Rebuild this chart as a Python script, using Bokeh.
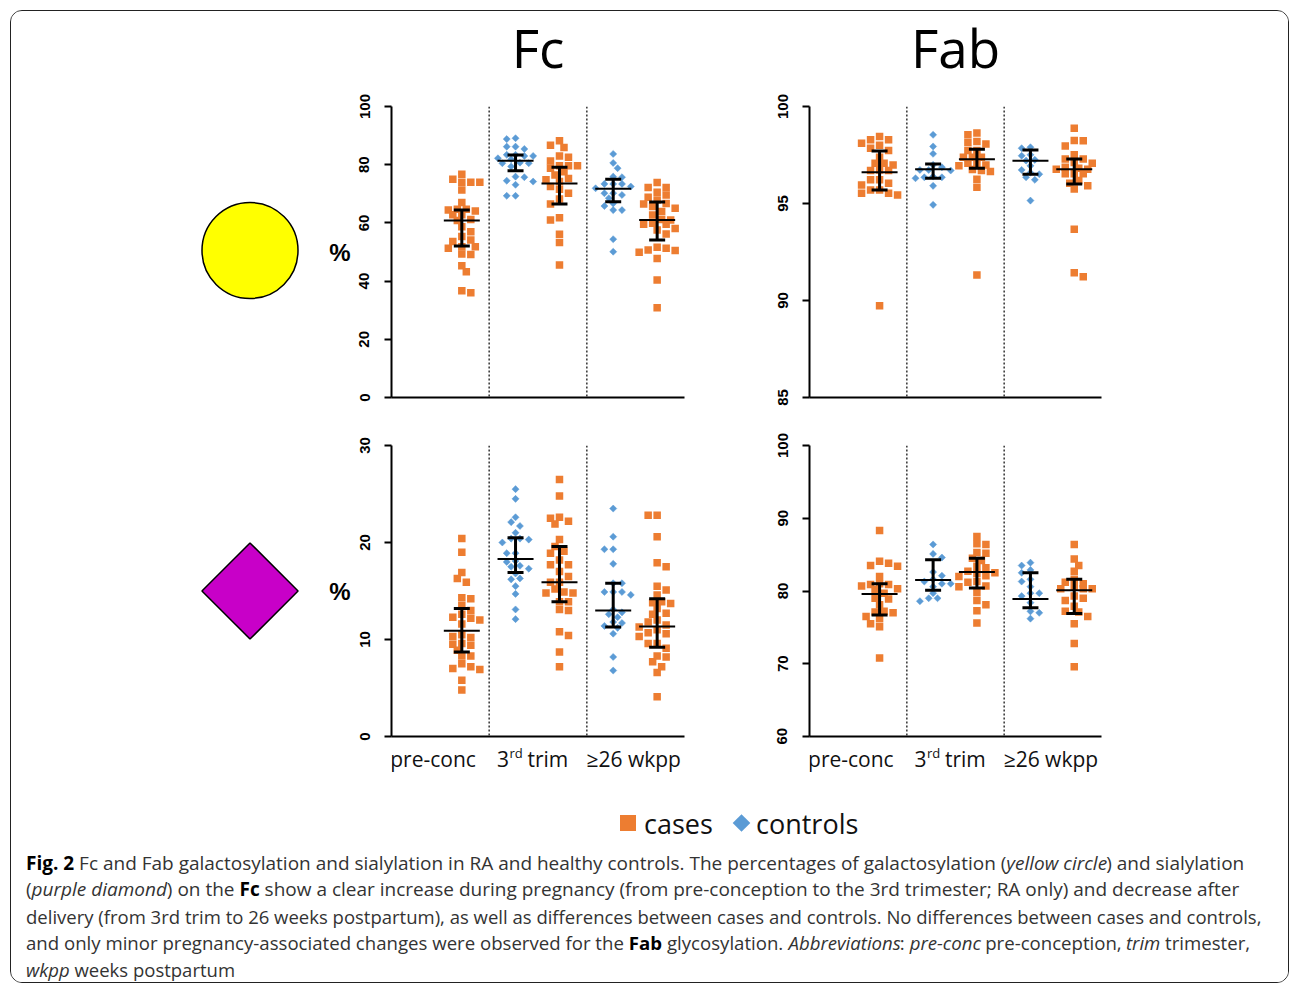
import os, glob
import numpy as np
from bokeh.plotting import figure
from bokeh.layouts import row, column
from bokeh.models import Range1d, FixedTicker, Span, Whisker, TeeHead, ColumnDataSource
from bokeh.core.properties import value
from bokeh.embed import file_html
from bokeh.resources import INLINE

# ------------------------------------------------------------------ data
groups = ["pre-conc", "3rd trim", "≥26 wkpp"]
panel_titles = ["Fc", "Fab"]
legend_labels = ["cases", "controls"]

# Fc galactosylation (%)
fc_gal_cases_pre = [76.7, 75.0, 74.0, 74.0, 74.0, 71.3, 67.0, 64.7, 64.1, 64.4, 64.7, 62.8, 62.8, 61.2, 60.8,
                    58.7, 57.0, 55.3, 54.1, 53.6, 51.3, 51.8, 51.8, 49.1, 49.3, 45.3, 43.2, 36.0, 36.7]
fc_gal_ctrl_3rd = [89.1, 88.8, 86.2, 85.4, 86.2, 83.4, 83.0, 83.4, 82.2, 83.0, 80.5, 79.4, 80.5, 80.7, 81.9,
                   75.7, 75.9, 74.2, 74.5, 73.1, 69.3, 69.3]
fc_gal_cases_3rd = [88.2, 86.7, 85.9, 82.6, 83.0, 81.3, 79.6, 79.6, 78.8, 79.6, 77.6, 76.5, 75.3, 74.2, 74.8,
                    72.5, 71.6, 70.2, 68.2, 66.5, 61.0, 61.8, 56.1, 53.3, 45.5]
fc_gal_ctrl_26 = [83.7, 80.6, 78.8, 75.7, 75.9, 73.4, 73.4, 72.5, 71.9, 73.4, 70.2, 69.6, 70.2, 68.5, 66.7,
                  65.8, 64.4, 64.4, 54.4, 50.1]
fc_gal_cases_26 = [73.9, 72.2, 72.2, 70.5, 69.6, 68.8, 67.9, 66.7, 66.5, 65.6, 65.0, 63.9, 62.7, 61.2, 61.0,
                   59.9, 59.5, 57.6, 58.1, 59.5, 56.2, 51.3, 50.5, 51.6, 49.9, 50.7, 47.8, 40.4, 30.8]
fc_gal_cases_median = [60.8, 73.5, 61.0]
fc_gal_cases_q1 = [52.1, 66.5, 54.1]
fc_gal_cases_q3 = [64.4, 79.1, 67.2]
fc_gal_ctrl_median = [None, 81.4, 71.7]
fc_gal_ctrl_q1 = [None, 77.9, 67.3]
fc_gal_ctrl_q3 = [None, 83.3, 75.0]

# Fab galactosylation (%)
fab_gal_cases_pre = [98.45, 98.28, 98.28, 98.0, 98.1, 97.73, 97.85, 97.39, 96.99, 97.08, 97.08, 96.73, 96.70,
                     96.70, 96.22, 96.22, 96.04, 95.96, 95.70, 95.70, 95.53, 95.44, 95.53, 89.73]
fab_gal_ctrl_3rd = [98.54, 97.94, 97.56, 96.87, 96.99, 96.35, 96.30, 96.73, 96.39, 96.35, 96.70, 96.73, 95.91, 94.93]
fab_gal_cases_3rd = [98.54, 98.63, 98.19, 98.14, 98.07, 97.73, 97.73, 97.39, 97.39, 97.39, 97.08, 97.08, 96.99,
                     96.94, 96.65, 96.75, 96.70, 96.25, 95.84, 91.31]
fab_gal_ctrl_26 = [97.90, 97.85, 97.51, 97.46, 97.25, 97.21, 96.94, 96.59, 96.73, 96.51, 96.35, 96.22, 95.15]
fab_gal_cases_26 = [98.88, 98.23, 98.25, 97.97, 97.51, 97.30, 97.30, 97.11, 97.08, 96.87, 96.77, 96.82, 96.77,
                    96.53, 96.53, 96.53, 96.04, 95.91, 96.18, 95.75, 93.67, 91.43, 91.23]
fab_gal_cases_median = [96.61, 97.28, 96.77]
fab_gal_cases_q1 = [95.70, 96.82, 96.01]
fab_gal_cases_q3 = [97.71, 97.80, 97.30]
fab_gal_ctrl_median = [None, 96.77, 97.20]
fab_gal_ctrl_q1 = [None, 96.30, 96.51]
fab_gal_ctrl_q3 = [None, 97.04, 97.76]

# Fc sialylation (%)
fc_sia_cases_pre = [20.4, 19.0, 16.9, 16.3, 15.9, 14.3, 14.2, 13.5, 12.6, 13.0, 12.0, 12.3, 12.2, 11.6, 10.2,
                    10.3, 10.5, 9.6, 9.4, 9.5, 8.9, 8.3, 8.3, 7.2, 7.5, 6.9, 7.0, 5.8, 4.8]
fc_sia_ctrl_3rd = [25.5, 24.5, 22.6, 22.1, 21.7, 21.0, 20.4, 20.4, 20.0, 20.3, 18.9, 18.9, 18.1, 18.0, 17.5,
                   17.6, 17.3, 16.8, 16.3, 16.2, 15.5, 14.7, 13.1, 12.1]
fc_sia_cases_3rd = [26.5, 24.8, 22.5, 22.6, 21.9, 22.2, 20.3, 19.6, 19.1, 18.9, 18.2, 17.7, 17.7, 17.0, 16.5,
                    15.9, 15.9, 15.2, 14.8, 14.9, 14.8, 13.9, 13.9, 13.1, 13.0, 10.4, 10.8, 8.7, 7.2]
fc_sia_ctrl_26 = [23.5, 20.6, 19.3, 19.3, 17.8, 15.8, 15.8, 14.9, 14.9, 14.9, 14.6, 13.1, 12.8, 12.6, 12.3,
                  11.8, 11.7, 11.2, 10.6, 11.4, 8.2, 6.8]
fc_sia_cases_26 = [22.8, 22.8, 20.6, 17.5, 17.9, 15.5, 15.1, 14.6, 13.9, 13.8, 13.7, 13.2, 12.7, 12.6, 12.0,
                   11.8, 11.0, 11.5, 11.3, 10.7, 10.6, 10.3, 9.1, 9.6, 9.6, 8.3, 8.2, 7.2, 7.7, 6.6, 4.1]
fc_sia_cases_median = [10.9, 15.9, 11.35]
fc_sia_cases_q1 = [8.7, 13.9, 9.2]
fc_sia_cases_q3 = [13.2, 19.6, 14.2]
fc_sia_ctrl_median = [None, 18.3, 13.0]
fc_sia_ctrl_q1 = [None, 16.9, 11.3]
fc_sia_ctrl_q3 = [None, 20.5, 15.8]

# Fab sialylation (%)
fab_sia_cases_pre = [88.3, 84.1, 83.5, 83.4, 83.8, 82.0, 81.0, 80.9, 80.7, 80.9, 80.3, 80.2, 79.7, 78.9, 79.0,
                     78.1, 77.1, 77.2, 77.0, 76.5, 76.2, 75.5, 75.1, 70.8]
fab_sia_ctrl_3rd = [86.4, 84.6, 85.1, 82.6, 82.1, 81.0, 80.6, 81.3, 81.0, 81.6, 79.7, 78.6, 79.0, 79.0]
fab_sia_cases_3rd = [87.5, 86.5, 86.4, 85.3, 85.2, 84.5, 84.2, 83.4, 83.2, 82.7, 82.5, 82.4, 82.0, 82.1, 81.3,
                     81.2, 80.7, 80.6, 79.8, 78.7, 78.1, 77.3, 75.6]
fab_sia_ctrl_26 = [83.9, 83.5, 82.9, 82.5, 81.6, 81.3, 80.6, 79.3, 79.7, 79.7, 78.4, 77.2, 77.0, 76.2]
fab_sia_cases_26 = [86.4, 84.4, 83.5, 82.7, 81.2, 81.6, 80.6, 81.0, 80.3, 80.3, 80.3, 79.3, 78.7, 79.0, 77.9,
                    77.1, 77.2, 76.5, 75.5, 72.8, 69.6]
fab_sia_cases_median = [79.6, 82.6, 80.1]
fab_sia_cases_q1 = [76.7, 80.4, 76.9]
fab_sia_cases_q3 = [81.0, 84.5, 81.6]
fab_sia_ctrl_median = [None, 81.5, 78.9]
fab_sia_ctrl_q1 = [None, 80.1, 77.7]
fab_sia_ctrl_q3 = [None, 84.3, 82.5]

fc_gal_ticks = [0, 20, 40, 60, 80, 100]
fab_gal_ticks = [85, 90, 95, 100]
fc_sia_ticks = [0, 10, 20, 30]
fab_sia_ticks = [60, 70, 80, 90, 100]

caption_lines = [
    [("Fig. 2", "bold"), (" Fc and Fab galactosylation and sialylation in RA and healthy controls. The percentages of galactosylation (", "normal"),
     ("yellow circle", "italic"), (") and sialylation", "normal")],
    [("(", "normal"), ("purple diamond", "italic"), (") on the ", "normal"), ("Fc", "bold"),
     (" show a clear increase during pregnancy (from pre-conception to the 3rd trimester; RA only) and decrease after", "normal")],
    [("delivery (from 3rd trim to 26 weeks postpartum), as well as differences between cases and controls. No differences between cases and controls,", "normal")],
    [("and only minor pregnancy-associated changes were observed for the ", "normal"), ("Fab", "bold"),
     (" glycosylation. ", "normal"), ("Abbreviations", "italic"), (": ", "normal"), ("pre-conc", "italic"),
     (" pre-conception, ", "normal"), ("trim", "italic"), (" trimester,", "normal")],
    [("wkpp", "italic"), (" weeks postpartum", "normal")],
]

# ------------------------------------------------------------------ style / layout
ORANGE = "#ED7D31"
BLUE = "#5B9BD5"
FONT = "Open Sans"
TICK_FONT = "'Liberation Sans Narrow', 'Arial Narrow', 'Liberation Sans'"
BASELINE_FIX = 0.31   # em: bokeh's alphabetic anchor sits lower than the glyph baseline
TITLE_FIX = 0.41

X_MAX = 6
CTRL_OFF, CASE_OFF = 0.54, 1.44
FW_L, FW_R, FH = 293, 292, 291
LB_L, RB_L = 72, 15
LB_R, RB_R = 110, 187
TB1, BB1 = 16, 22
TB2, BB2 = 26, 8
W_DECO = 308
TOP_MARGIN = 10
H_TITLE = 79
H_STRIP = 35
H_CAP = 203
W_ALL = W_DECO + LB_L + FW_L + RB_L + LB_R + FW_R + RB_R
H_ROWS = (TB1 + FH + BB1) + (TB2 + FH + BB2) + H_STRIP


# ------------------------------------------------------------------ text measuring
def _font_path(names):
    roots = ["/usr/share/fonts", "/usr/local/share/fonts",
             os.path.expanduser("~/.local/share/fonts"), os.path.expanduser("~/.fonts")]
    for n in names:
        for r in roots:
            hits = sorted(glob.glob(os.path.join(r, "**", n), recursive=True))
            if hits:
                return hits[0]
    return None


_FONT_FILES = {
    "normal": _font_path(["OpenSans-Regular.ttf", "OpenSans[wdth,wght].ttf", "OpenSans-*.ttf"]),
    "bold": _font_path(["OpenSans-Bold.ttf", "OpenSans[wdth,wght].ttf"]),
    "italic": _font_path(["OpenSans-Italic.ttf", "OpenSans-Italic[wdth,wght].ttf"]),
}
_FCACHE = {}


def _load(style):
    if style in _FCACHE:
        return _FCACHE[style]
    f = None
    try:
        from PIL import ImageFont
        path = _FONT_FILES.get(style)
        if path:
            f = ImageFont.truetype(path, 100)
            if "[" in os.path.basename(path):
                try:
                    axes = f.get_variation_axes()
                    vals = []
                    for a in axes:
                        nm = a.get("name", b"")
                        if isinstance(nm, bytes):
                            nm = nm.decode(errors="ignore")
                        if "eight" in str(nm).lower() or "wght" in str(nm).lower():
                            vals.append(700 if style == "bold" else 400)
                        else:
                            vals.append(a.get("default", 100))
                    f.set_variation_by_axes(vals)
                except Exception:
                    pass
    except Exception:
        f = None
    _FCACHE[style] = f
    return f


def tw(s, size, style="normal"):
    f = _load(style)
    if f is not None:
        try:
            return f.getlength(s) * size / 100.0
        except Exception:
            pass
    f = _load("normal")
    k = 1.07 if style == "bold" else 1.0
    if f is not None:
        try:
            return f.getlength(s) * size / 100.0 * k
        except Exception:
            pass
    return len(s) * 0.53 * size * k


# ------------------------------------------------------------------ helpers
def swarm_offsets(vals, ppu_y, step=4.5, dmin=7.0, kmax=4):
    vals = np.asarray(vals, float)
    order = np.argsort(-vals, kind="stable")
    placed, offs = [], np.zeros(len(vals))
    for n, i in enumerate(order):
        y = vals[i] * ppu_y
        sgn = 1 if n % 2 == 0 else -1
        cand = [0]
        for k in range(1, kmax + 1):
            cand += [sgn * k, -sgn * k]
        best, best_d = None, -1.0
        for c in cand:
            x = c * step
            d = min([np.hypot(x - px, y - py) for px, py in placed] or [1e9])
            if d >= dmin:
                best = x
                break
            if d > best_d:
                best, best_d = x, d
        placed.append((best, y))
        offs[i] = best
    return offs


def make_panel(ymin, ymax, ticks, lb, fw, rb, tb, bb, ylabel=None):
    p = figure(frame_width=fw, frame_height=FH, x_range=Range1d(0, X_MAX), y_range=Range1d(ymin, ymax),
               min_border_left=lb, min_border_right=rb, min_border_top=tb, min_border_bottom=bb,
               output_backend="svg", toolbar_location=None, outline_line_color=None)
    p.grid.visible = False
    ya = p.yaxis[0]
    ya.ticker = FixedTicker(ticks=ticks)
    ya.axis_line_width = 2
    ya.axis_line_color = "black"
    ya.major_tick_line_width = 2
    ya.major_tick_line_color = "black"
    ya.major_tick_out = 7
    ya.major_tick_in = 0
    ya.minor_tick_out = 0
    ya.minor_tick_in = 0
    ya.major_label_orientation = "vertical"
    ya.major_label_text_font = TICK_FONT
    ya.major_label_text_font_style = "bold"
    ya.major_label_text_font_size = "15px"
    ya.major_label_text_color = "#000000"
    ya.major_label_standoff = 15
    if ylabel:
        ya.axis_label = ylabel
        ya.axis_label_orientation = "horizontal"
        ya.axis_label_text_font = "Liberation Sans"
        ya.axis_label_text_font_style = "bold"
        ya.axis_label_text_font_size = "24px"
        ya.axis_label_text_color = "#000000"
        ya.axis_label_standoff = 6
    xa = p.xaxis[0]
    xa.ticker = FixedTicker(ticks=[])
    xa.major_tick_out = 0
    xa.major_tick_in = 0
    xa.minor_tick_out = 0
    xa.minor_tick_in = 0
    xa.major_label_text_font_size = "0px"
    xa.major_label_standoff = 0
    xa.axis_line_width = 2
    xa.axis_line_color = "black"
    for s in (2, 4):
        p.add_layout(Span(location=s, dimension="height", line_color="#333333", line_width=1.5, line_dash="2 2"))
    return p


def draw(p, cases, ctrls, med_c, q1_c, q3_c, med_k, q1_k, q3_k, fw):
    ymin, ymax = p.y_range.start, p.y_range.end
    ppu_y = FH / (ymax - ymin)
    ppu_x = fw / X_MAX
    # controls
    xs, ys = [], []
    for k, vals in enumerate(ctrls):
        if vals is None:
            continue
        xc = 2 * k + CTRL_OFF
        offs = swarm_offsets(vals, ppu_y, step=4.4, dmin=6.2, kmax=4)
        xs += list(xc + offs / ppu_x)
        ys += list(vals)
    p.scatter(xs, ys, marker="square", angle=np.pi / 4, size=5, fill_color=BLUE, line_color=BLUE, line_width=0.5)
    # cases
    xs, ys = [], []
    for k, vals in enumerate(cases):
        xc = 2 * k + CASE_OFF
        offs = swarm_offsets(vals, ppu_y, step=4.5, dmin=7.2, kmax=4)
        xs += list(xc + offs / ppu_x)
        ys += list(vals)
    p.scatter(xs, ys, marker="square", size=7.5, fill_color=ORANGE, line_color=None)
    # medians + IQR
    bx, lo, hi, md = [], [], [], []
    for k in range(3):
        if med_k[k] is not None:
            bx.append(2 * k + CTRL_OFF); lo.append(q1_k[k]); hi.append(q3_k[k]); md.append(med_k[k])
        bx.append(2 * k + CASE_OFF); lo.append(q1_c[k]); hi.append(q3_c[k]); md.append(med_c[k])
    bx = np.array(bx)
    half = 18.0 / ppu_x
    p.segment(x0=bx - half, x1=bx + half, y0=md, y1=md, line_width=2, line_color="black")
    src = ColumnDataSource(dict(base=bx, lower=lo, upper=hi))
    p.add_layout(Whisker(source=src, base="base", lower="lower", upper="upper",
                         line_width=3, line_color="black", level="overlay",
                         upper_head=TeeHead(size=16, line_width=3, line_color="black"),
                         lower_head=TeeHead(size=16, line_width=3, line_color="black")))


def make_strip(x_range, lb, fw, rb):
    s = figure(frame_width=fw, frame_height=H_STRIP, x_range=x_range, y_range=Range1d(0, 1),
               min_border_left=lb, min_border_right=rb, min_border_top=0, min_border_bottom=0,
               x_axis_location=None, y_axis_location=None,
               output_backend="svg", toolbar_location=None, outline_line_color=None)
    s.grid.visible = False
    label_x = [0.85, 2.89, 4.96]
    ly = 0.59
    fs = 21
    common = dict(text_font=value(FONT), text_color="#111111", text_baseline="middle")
    s.text(x=[label_x[0], label_x[2]], y=[ly, ly], text=[groups[0], groups[2]],
           text_align="center", text_font_size="21px", **common)
    # "3rd trim" with superscript
    w3 = tw("3", fs)
    wrd = tw("rd", 13)
    wtr = tw(" trim", fs)
    left = -(w3 + wrd + wtr) / 2.0
    s.text(x=[label_x[1]], y=[ly], text=["3"], x_offset=left, text_align="left", text_font_size="21px", **common)
    s.text(x=[label_x[1]], y=[ly], text=["rd"], x_offset=left + w3 + 0.5, y_offset=-6,
           text_align="left", text_font_size="13px", **common)
    s.text(x=[label_x[1]], y=[ly], text=["trim"], x_offset=left + w3 + wrd + tw(" ", fs),
           text_align="left", text_font_size="21px", **common)
    return s


# ------------------------------------------------------------------ panels
tl = make_panel(0, 100, fc_gal_ticks, LB_L, FW_L, RB_L, TB1, BB1, ylabel="%")
draw(tl, [fc_gal_cases_pre, fc_gal_cases_3rd, fc_gal_cases_26], [None, fc_gal_ctrl_3rd, fc_gal_ctrl_26],
     fc_gal_cases_median, fc_gal_cases_q1, fc_gal_cases_q3, fc_gal_ctrl_median, fc_gal_ctrl_q1, fc_gal_ctrl_q3, FW_L)

tr = make_panel(85, 100, fab_gal_ticks, LB_R, FW_R, RB_R, TB1, BB1)
draw(tr, [fab_gal_cases_pre, fab_gal_cases_3rd, fab_gal_cases_26], [None, fab_gal_ctrl_3rd, fab_gal_ctrl_26],
     fab_gal_cases_median, fab_gal_cases_q1, fab_gal_cases_q3, fab_gal_ctrl_median, fab_gal_ctrl_q1, fab_gal_ctrl_q3, FW_R)

bl = make_panel(0, 30, fc_sia_ticks, LB_L, FW_L, RB_L, TB2, BB2, ylabel="%")
draw(bl, [fc_sia_cases_pre, fc_sia_cases_3rd, fc_sia_cases_26], [None, fc_sia_ctrl_3rd, fc_sia_ctrl_26],
     fc_sia_cases_median, fc_sia_cases_q1, fc_sia_cases_q3, fc_sia_ctrl_median, fc_sia_ctrl_q1, fc_sia_ctrl_q3, FW_L)

br = make_panel(60, 100, fab_sia_ticks, LB_R, FW_R, RB_R, TB2, BB2)
draw(br, [fab_sia_cases_pre, fab_sia_cases_3rd, fab_sia_cases_26], [None, fab_sia_ctrl_3rd, fab_sia_ctrl_26],
     fab_sia_cases_median, fab_sia_cases_q1, fab_sia_cases_q3, fab_sia_ctrl_median, fab_sia_ctrl_q1, fab_sia_ctrl_q3, FW_R)

sl = make_strip(bl.x_range, LB_L, FW_L, RB_L)
sr = make_strip(br.x_range, LB_R, FW_R, RB_R)

# ------------------------------------------------------------------ decorations (icons)
deco = figure(width=W_DECO, height=H_ROWS, x_range=Range1d(0, W_DECO), y_range=Range1d(H_ROWS, 0),
              x_axis_location=None, y_axis_location=None, min_border=0,
              output_backend="svg", toolbar_location=None, outline_line_color=None)
deco.grid.visible = False
icon_x = W_DECO - 69.5
deco.scatter([icon_x], [TB1 + FH / 2 - 1.5], marker="circle", size=96, fill_color="#FFFF00",
             line_color="black", line_width=1.5)
deco.scatter([icon_x], [TB1 + FH + BB1 + TB2 + FH / 2], marker="square", angle=np.pi / 4, size=68,
             fill_color="#C800C8", line_color="black", line_width=1.5)

# ------------------------------------------------------------------ titles
tfig = figure(width=W_ALL, height=H_TITLE, x_range=Range1d(0, W_ALL), y_range=Range1d(H_TITLE, 0),
              x_axis_location=None, y_axis_location=None, min_border=0,
              output_backend="svg", toolbar_location=None, outline_line_color=None)
tfig.grid.visible = False
title_x = [W_DECO + LB_L + FW_L / 2, W_DECO + LB_L + FW_L + RB_L + LB_R + FW_R / 2]
t_fs = 53
t_base = 69.0 - (TOP_MARGIN + 1.5)          # glyph baseline inside the title strip
tfig.text(x=title_x, y=[t_base - TITLE_FIX * t_fs] * 2, text=panel_titles, text_align="center",
          text_baseline="alphabetic", text_font=value(FONT), text_font_size=f"{t_fs}px", text_color="#000000")

# ------------------------------------------------------------------ legend + caption
cfig = figure(width=W_ALL, height=H_CAP, x_range=Range1d(0, W_ALL), y_range=Range1d(H_CAP, 0),
              x_axis_location=None, y_axis_location=None, min_border=0,
              output_backend="svg", toolbar_location=None, outline_line_color=None)
cfig.grid.visible = False
leg_y = 43.5
cfig.scatter([616.5], [leg_y], marker="square", size=16, fill_color=ORANGE, line_color=None)
cfig.scatter([730.0], [leg_y], marker="square", angle=np.pi / 4, size=12.5, fill_color=BLUE, line_color=None)
cfig.text(x=[632.5, 744.5], y=[leg_y, leg_y], text=legend_labels, text_align="left", text_baseline="middle",
          text_font=value(FONT), text_font_size="27px", text_color="#111111")

cap_x0 = 14.5
cap_targets = [1227.0, 1217.0, 1234.0, 1224.0, None]
line_fs = []
for line, tgt in zip(caption_lines, cap_targets):
    w100 = sum(tw(t, 100, st) for t, st in line)
    if tgt is None or w100 <= 0:
        line_fs.append(None)
    else:
        line_fs.append(min(max(100.0 * tgt / w100, 14.0), 19.0))
base_fs = min(v for v in line_fs if v is not None)
line_fs = [round(v if v is not None else base_fs, 2) for v in line_fs]
baselines = [89, 115.5, 142.5, 169, 195.5]
runs = {}
for line, yb, fs in zip(caption_lines, baselines, line_fs):
    x = cap_x0
    for t, st in line:
        lead = len(t) - len(t.lstrip(" "))
        core = t.strip(" ")
        if core:
            key = (st, fs)
            xs_, ys_, ts_ = runs.setdefault(key, ([], [], []))
            xs_.append(x + tw(" " * lead, fs, st))
            ys_.append(yb - BASELINE_FIX * fs)
            ts_.append(core)
        x += tw(t, fs, st)
for (st, fs), (xs_, ys_, ts_) in runs.items():
    cfig.text(x=xs_, y=ys_, text=ts_, text_align="left", text_baseline="alphabetic",
              text_font=value(FONT), text_font_size=f"{fs}px",
              text_font_style="bold" if st == "bold" else ("italic" if st == "italic" else "normal"),
              text_color="#000000" if st == "bold" else "#333333")

# ------------------------------------------------------------------ layout
body = row(deco, column(tl, bl, sl), column(tr, br, sr))
page = column(tfig, body, cfig, margin=(TOP_MARGIN, 0, 0, 10),
              styles={"border": "1.5px solid #222222", "border-radius": "12px", "overflow": "hidden",
                      "background-color": "white"})

open("out.html", "w").write(file_html(page, INLINE))
